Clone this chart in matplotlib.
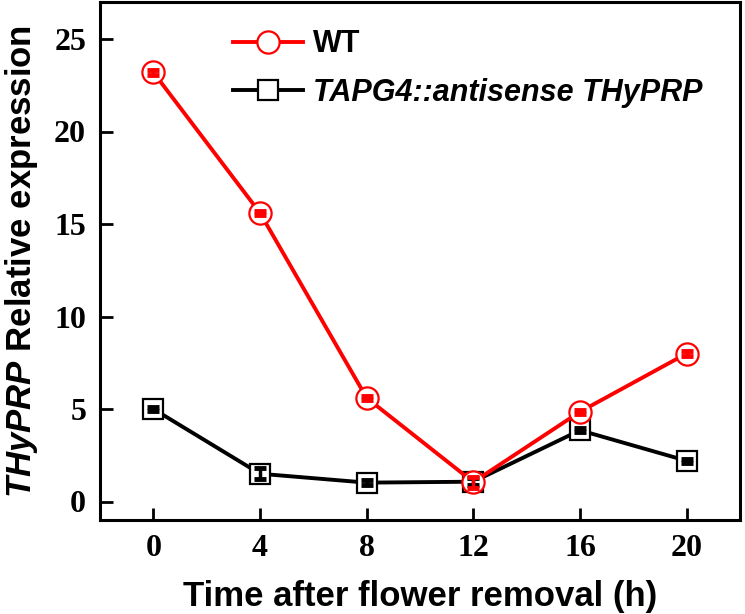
import numpy as np
import matplotlib
matplotlib.use("Agg")
import matplotlib.pyplot as plt
from matplotlib.lines import Line2D

plt.rcParams['mathtext.fontset'] = 'custom'
plt.rcParams['mathtext.bfit'] = 'Liberation Sans:italic:bold'

# data
hours = [0, 4, 8, 12, 16, 20]
wt = [23.2, 15.6, 5.6, 1.05, 4.85, 8.0]
wt_err = [0.12, 0.12, 0.12, 0.3, 0.12, 0.12]
anti = [5.0, 1.5, 1.02, 1.07, 3.85, 2.2]
anti_err = [0.12, 0.3, 0.12, 0.2, 0.12, 0.12]

fig = plt.figure(figsize=(7.45, 6.14), dpi=100)
ax = fig.add_axes([100/745, 1 - 520/614, 640/745, 518/614])

ax.plot(hours, anti, color='black', lw=2.8, marker='s', ms=14,
        mfc='white', mec='black', mew=1.6, zorder=2)
ax.plot(hours, wt, color='red', lw=2.8, marker='o', ms=16,
        mfc='white', mec='red', mew=1.6, zorder=3)
ax.errorbar(hours, anti, yerr=anti_err, fmt='none', ecolor='black',
            elinewidth=2.5, capsize=4.5, capthick=3.5, zorder=4)
ax.errorbar(hours, wt, yerr=wt_err, fmt='none', ecolor='red',
            elinewidth=2.5, capsize=4.5, capthick=3.5, zorder=5)

ax.set_xlim(-2, 22)
ax.set_ylim(-1, 27)
ax.set_xticks(hours)
ax.set_yticks([0, 5, 10, 15, 20, 25])
ax.tick_params(direction='in', length=9, width=2, labelsize=23, pad=10,
               top=False, right=False)
for lab in ax.get_xticklabels() + ax.get_yticklabels():
    lab.set_family('Liberation Serif')
    lab.set_fontweight('bold')
for s in ax.spines.values():
    s.set_linewidth(2.2)

ax.set_xlabel('Time after flower removal (h)', family='Liberation Sans',
              fontweight='bold', fontsize=25, labelpad=12)
ax.set_ylabel(r'$\bfit{THyPRP}$ Relative expression', family='Liberation Sans',
              fontweight='bold', fontsize=25)
ax.yaxis.set_label_coords(-0.093, 0.5)

handles = [Line2D([], [], color='red', lw=2.8, marker='o', ms=16, mfc='white', mec='red', mew=1.6),
           Line2D([], [], color='black', lw=2.8, marker='s', ms=14, mfc='white', mec='black', mew=1.6)]
labels = ['WT', 'TAPG4::antisense THyPRP']
leg = ax.legend(handles, labels, loc='upper left', bbox_to_anchor=(0.165, 1.0),
                frameon=False, handlelength=2.3, handletextpad=0.3,
                labelspacing=0.6, prop={'family': 'Liberation Sans', 'weight': 'bold', 'size': 22})
leg.get_texts()[1].set_style('italic')

fig.savefig('out.png', dpi=100)
